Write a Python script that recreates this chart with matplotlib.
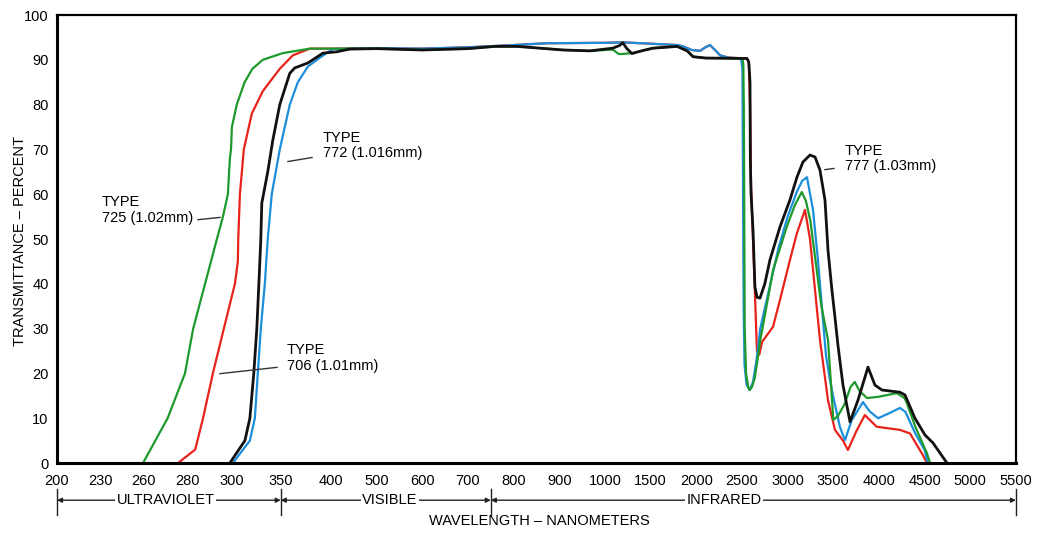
import numpy as np
import matplotlib
matplotlib.use('Agg')
import matplotlib.pyplot as plt

plt.rcParams['font.family'] = ['Liberation Sans', 'DejaVu Sans']

# x axis is a stretched category-like scale: labelled wavelengths at (nearly) even spacing
tick_nm = [200, 230, 260, 280, 300, 350, 400, 500, 600, 700, 800, 900, 1000,
           1500, 2000, 2500, 3000, 3500, 4000, 4500, 5000, 5500]
tick_pos = [0, 0.96, 1.9, 2.85, 3.83, 4.9, 6, 7, 8, 9, 10, 11, 12,
            13, 14, 15, 16, 17, 18, 19, 20, 21]
y_ticks = [0, 10, 20, 30, 40, 50, 60, 70, 80, 90, 100]

# (wavelength nm, transmittance %)
type725 = [(259.5, 0), (271, 10), (279, 20), (282.7, 30), (288, 40), (293.3, 50), (296, 55),
           (298.2, 60), (299.1, 68), (299.6, 70), (300, 75), (305, 80), (313, 85), (321, 88),
           (331.6, 90), (352, 91.5), (379, 92.5), (404, 92.5), (500, 92.5), (600, 92.2),
           (700, 92.5), (760, 93.0), (807, 93.0), (908, 92.2), (967, 92.0), (1085, 92.3),
           (1150, 91.3), (1195, 91.3), (1240, 91.4), (1295, 91.5), (1400, 92.0), (1525, 92.6),
           (1790, 93.0), (1900, 92.0), (1965, 90.7), (2100, 90.4), (2505, 90.3), (2515, 89),
           (2520, 80), (2525, 55), (2530, 30), (2545, 20), (2570, 16.8), (2585, 16.3),
           (2610, 17), (2640, 19), (2670, 23), (2697, 27), (2840, 43), (2990, 52.7),
           (3080, 57.6), (3155, 60.5), (3200, 58.5), (3250, 54), (3300, 46), (3370, 35),
           (3442, 27.5), (3480, 16), (3500, 9.6), (3550, 10.5), (3620, 13), (3690, 17),
           (3735, 18.1), (3790, 16), (3870, 14.5), (4000, 14.8), (4195, 15.6), (4280, 14.5),
           (4305, 13.4), (4400, 8), (4525, 2.2), (4560, 0)]

type706 = [(275.8, 0), (283.6, 3), (287.1, 10), (291.5, 20), (296.4, 30), (303.1, 40),
           (306.1, 45), (306.5, 50), (308.2, 60), (312.2, 70), (320.4, 78), (331.6, 83),
           (349, 88), (362, 91), (379, 92.5), (404, 92.5), (500, 92.6), (600, 92.5),
           (700, 92.8), (800, 93.3), (873, 93.7), (1000, 93.8), (1195, 93.9), (1500, 93.6),
           (1790, 93.3), (1855, 93.0), (1950, 92.2), (2040, 92.0), (2100, 92.8), (2150, 93.3),
           (2200, 92.3), (2260, 91.0), (2350, 90.5), (2555, 90.3), (2575, 89.5), (2588, 80),
           (2599, 62), (2621, 50), (2642, 38), (2664, 25), (2690, 24.2), (2719, 27),
           (2840, 30.4), (2916, 36.4), (3025, 45.3), (3102, 51.3), (3190, 56.5), (3245, 50),
           (3300, 38.6), (3354, 27.5), (3442, 14), (3518, 7.4), (3606, 5), (3660, 2.9),
           (3750, 7), (3845, 10.7), (3975, 8.1), (4230, 7.4), (4340, 6.6), (4480, 1.8),
           (4525, 0)]

type772 = [(301, 0), (318.4, 5), (323.5, 10), (326.5, 20), (329.6, 30), (333.7, 40),
           (336.7, 50), (340.8, 60), (349, 70), (359, 80), (367, 85), (377, 88.5),
           (389, 90.5), (404, 92.4), (500, 92.6), (600, 92.5), (700, 92.8), (800, 93.3),
           (873, 93.7), (1000, 93.8), (1195, 93.9), (1500, 93.6), (1790, 93.3), (1855, 93.0),
           (1950, 92.2), (2040, 92.0), (2100, 92.8), (2150, 93.3), (2200, 92.3), (2260, 91.0),
           (2350, 90.5), (2490, 90.3), (2505, 88), (2512, 60), (2518, 35), (2528, 22),
           (2550, 17.5), (2585, 16.3), (2620, 18), (2660, 23), (2700, 30), (2800, 39),
           (2900, 48), (3000, 55), (3100, 60.5), (3160, 63), (3212, 63.8), (3278, 56.5),
           (3332, 45.3), (3387, 32), (3420, 24), (3460, 19), (3497, 15), (3573, 8),
           (3628, 5.1), (3700, 9.5), (3825, 13.6), (3900, 11.5), (3990, 10), (4100, 11),
           (4230, 12.3), (4290, 11.4), (4400, 6.5), (4500, 2.9), (4535, 0)]

type777 = [(299.1, 0), (313.3, 5), (318.4, 10), (322.4, 20), (325.5, 30), (327.6, 40),
           (329.6, 50), (330.6, 58), (336.7, 65), (341.8, 72), (349, 80), (359, 87),
           (364, 88.2), (377, 89.3), (392, 91.5), (413, 91.8), (441, 92.4), (500, 92.5),
           (600, 92.2), (700, 92.5), (760, 93.0), (807, 93.0), (908, 92.2), (967, 92.0),
           (1085, 92.6), (1160, 93.2), (1195, 93.8), (1240, 92.5), (1295, 91.4), (1400, 92.0),
           (1525, 92.6), (1790, 93.0), (1900, 92.0), (1965, 90.7), (2100, 90.4), (2555, 90.3),
           (2575, 89.5), (2588, 85), (2592, 67.6), (2599, 60.3), (2621, 52), (2642, 39.3),
           (2665, 37), (2697, 36.8), (2750, 40), (2806, 45.3), (2916, 52.7), (3025, 58.7),
           (3102, 63.8), (3168, 67.2), (3245, 68.75), (3300, 68.3), (3354, 65.4), (3409, 58.7),
           (3442, 47.5), (3485, 38.6), (3518, 32.6), (3551, 26.3), (3606, 17.4), (3683, 9.2),
           (3770, 14), (3880, 21.4), (3956, 17.4), (4033, 16.3), (4230, 15.8), (4285, 15.2),
           (4394, 10), (4504, 6.25), (4591, 4.5), (4745, 0)]

bands = [('ULTRAVIOLET', 200, 350, 270), ('VISIBLE', 350, 750, 529), ('INFRARED', 750, 5500, 2300)]


def fwd(x):
    return np.interp(x, tick_nm, tick_pos)


def inv(u):
    return np.interp(u, tick_pos, tick_nm)


fig = plt.figure(figsize=(10.42, 5.33), dpi=100)
ax = fig.add_axes([0.0547, 0.1313, 0.9203, 0.8405])
ax.set_xscale('function', functions=(fwd, inv))

# red under blue so the upper plateau line reads blue, black on top
series = [(type706, '#e8231c', 1.6), (type772, '#1c8fdc', 1.6),
          (type725, '#1e9a2c', 1.6), (type777, '#111111', 2.0)]
for data, col, lw in series:
    arr = np.array(data)
    ax.plot(arr[:, 0], arr[:, 1], color=col, lw=lw, solid_joinstyle='round')

ax.set_xlim(200, 5500)
ax.set_ylim(0, 100)
ax.set_xticks(tick_nm)
ax.set_xticklabels([str(t) for t in tick_nm])
ax.set_yticks(y_ticks)
ax.minorticks_off()
ax.tick_params(axis='x', length=0, pad=8, labelsize=10.5)
ax.tick_params(axis='y', length=0, pad=6, labelsize=10.5)
for side in ['left', 'bottom']:
    ax.spines[side].set_linewidth(2.2)
for side in ['top', 'right']:
    ax.spines[side].set_linewidth(1.6)

# annotations (axes-fraction positions)
notes = [('TYPE\n725 (1.02mm)', (0.047, 0.598), (0.1439, 0.5424), (0.1731, 0.549)),
         ('TYPE\n772 (1.016mm)', (0.2774, 0.742), (0.2377, 0.6719), (0.2690, 0.6830)),
         ('TYPE\n706 (1.01mm)', (0.2398, 0.267), (0.1668, 0.1987), (0.2325, 0.2143)),
         ('TYPE\n777 (1.03mm)', (0.8217, 0.713), (0.7977, 0.654), (0.8133, 0.6585))]
for txt, tpos, p1, p2 in notes:
    ax.text(tpos[0], tpos[1], txt, transform=ax.transAxes, ha='left', va='top',
            fontsize=10.5, linespacing=1.15)
    ax.annotate('', xy=p1, xytext=p2, xycoords='axes fraction',
                arrowprops=dict(arrowstyle='-', color='#333333', lw=1.0))

# spectral band brackets under the axis
yb = -0.083
trans = ax.get_xaxis_transform()
for name, x0, x1, xm in bands:
    ax.annotate('', xy=(x0, yb), xytext=(x1, yb), xycoords=trans, textcoords=trans,
                arrowprops=dict(arrowstyle='<|-|>', color='#222222', lw=1.0,
                                mutation_scale=7, shrinkA=0, shrinkB=0))
    ax.text(xm, yb, name, transform=trans, ha='center', va='center', fontsize=10.5,
            bbox=dict(facecolor='white', edgecolor='none', pad=1))
for xv in [200, 350, 750, 5500]:
    ax.plot([xv, xv], [-0.058, -0.116], transform=trans, color='#222222', lw=1.0,
            clip_on=False)

fig.text(539 / 1042, 1 - 521 / 533, 'WAVELENGTH \u2013 NANOMETERS', ha='center', va='center',
         fontsize=10.5)
fig.text(20 / 1042, 1 - 241 / 533, 'TRANSMITTANCE \u2013 PERCENT', ha='center', va='center',
         rotation=90, fontsize=10.5)

fig.savefig('out.png', dpi=100)
